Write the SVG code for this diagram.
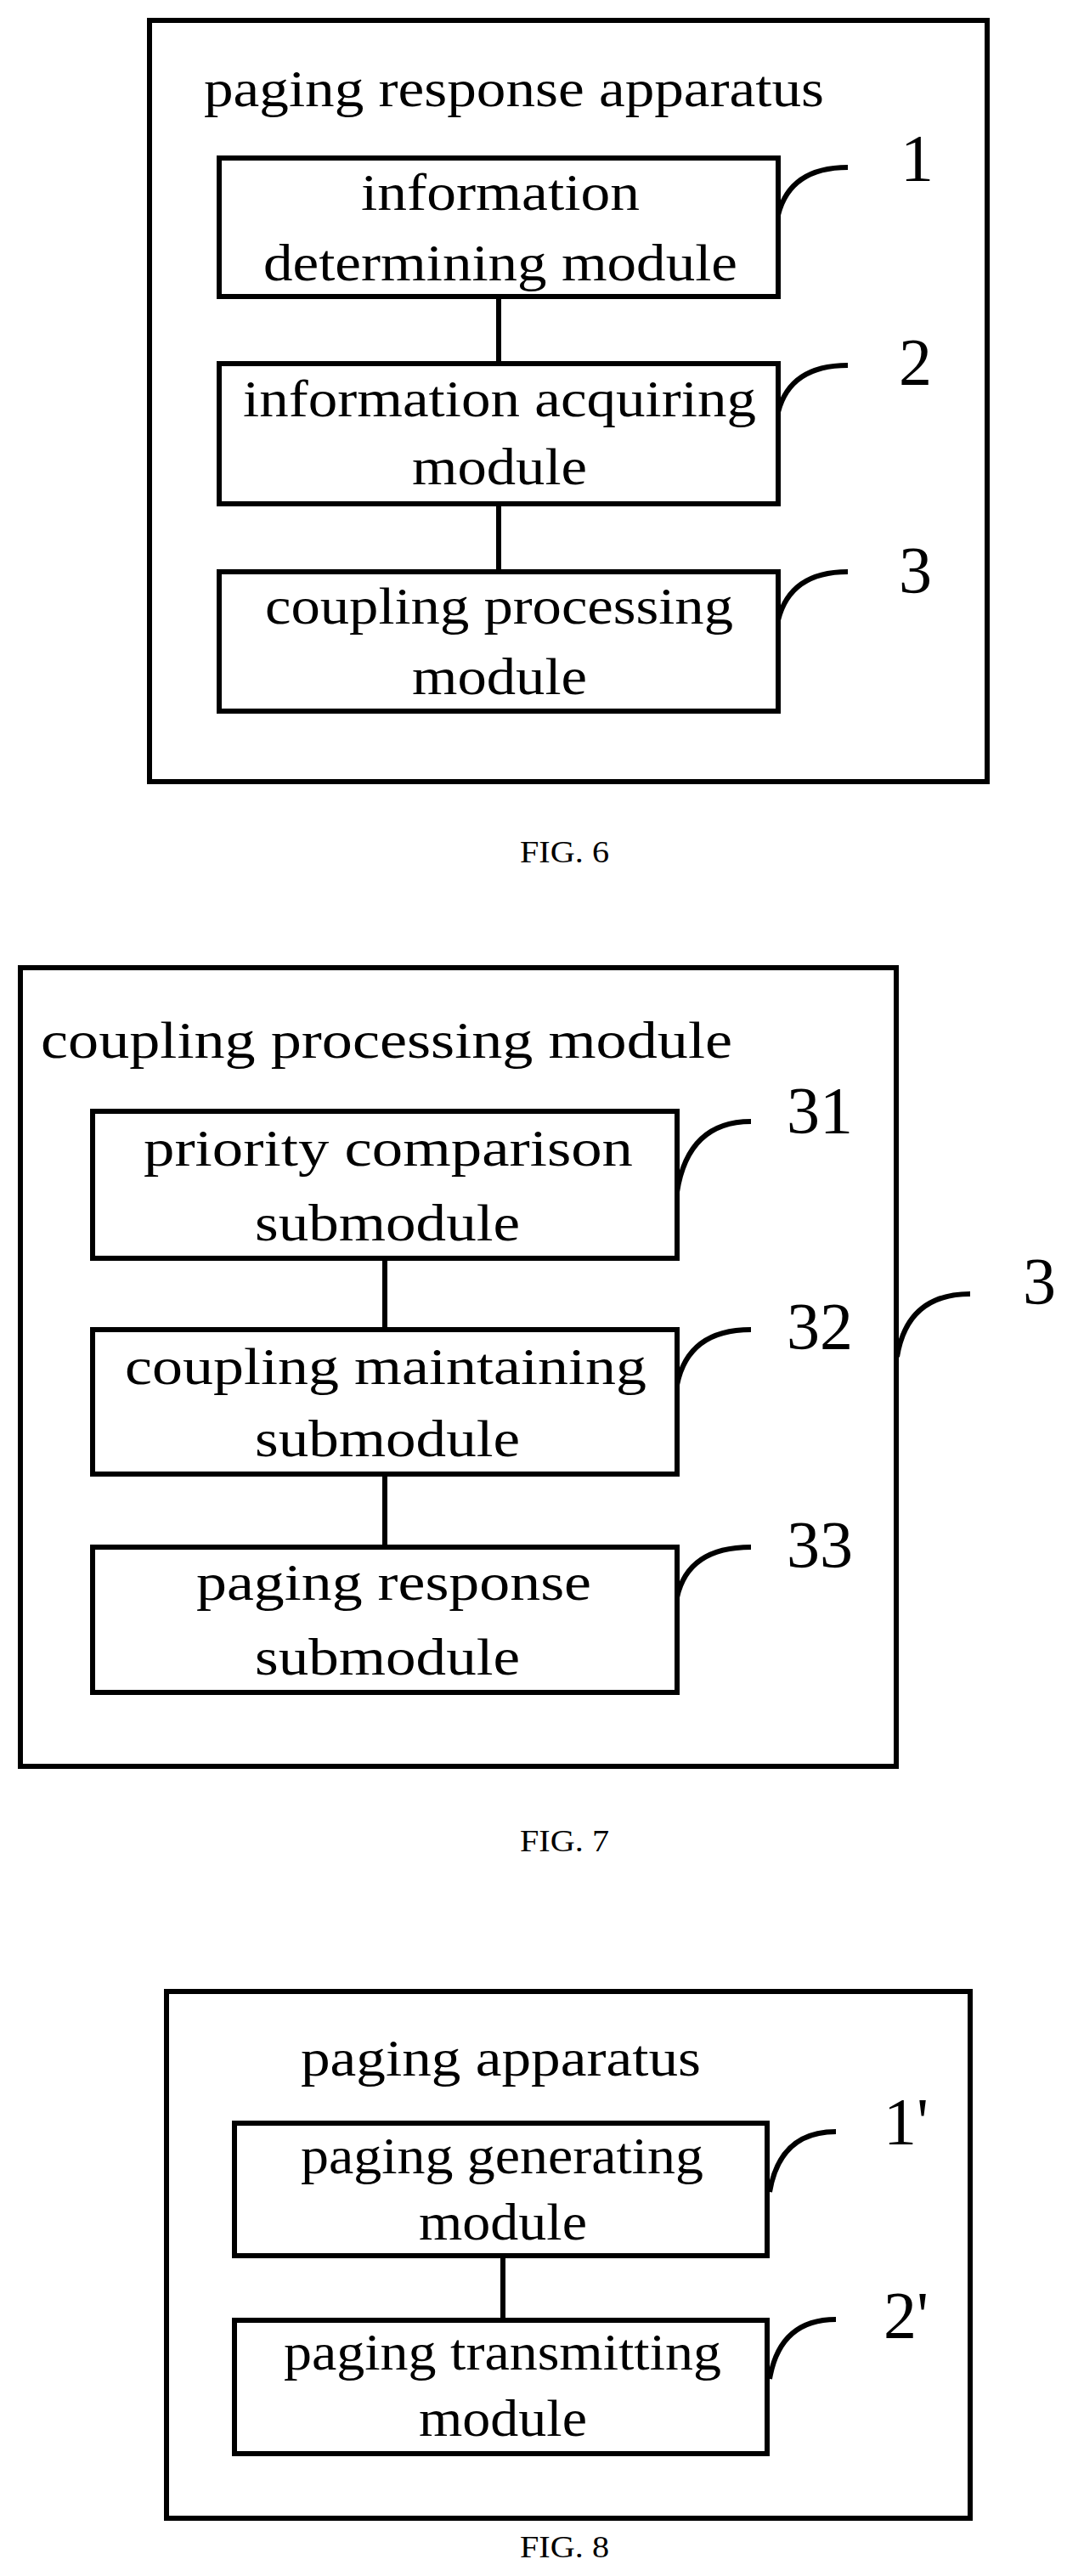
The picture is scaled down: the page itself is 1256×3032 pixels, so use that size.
<svg xmlns="http://www.w3.org/2000/svg" width="1256" height="3032" viewBox="0 0 1256 3032">
<style>
.b{fill:none;stroke:#000;stroke-width:6}
line,path{fill:none;stroke:#000;stroke-width:6}
text{font-family:"Liberation Serif","Times New Roman",serif;fill:#000}
.t{font-size:62px}
.n{font-size:78px}
.f{font-size:36px}
</style>
<rect width="1256" height="3032" style="fill:#fff;stroke:none"/>
<g id="fig6">
<rect class="b" x="176" y="24" width="986" height="896"/>
<text class="t" x="240" y="125" textLength="730" lengthAdjust="spacingAndGlyphs">paging response apparatus</text>
<g id="n1"><rect class="b" x="258" y="186" width="658" height="163"/>
<text class="t" x="425" y="247" textLength="328" lengthAdjust="spacingAndGlyphs">information</text>
<text class="t" x="310" y="330" textLength="558" lengthAdjust="spacingAndGlyphs">determining module</text></g>
<g id="n2"><rect class="b" x="258" y="428" width="658" height="165"/>
<text class="t" x="286" y="490" textLength="604" lengthAdjust="spacingAndGlyphs">information acquiring</text>
<text class="t" x="485" y="570" textLength="206" lengthAdjust="spacingAndGlyphs">module</text></g>
<g id="n3"><rect class="b" x="258" y="673" width="658" height="164"/>
<text class="t" x="312" y="734" textLength="551" lengthAdjust="spacingAndGlyphs">coupling processing</text>
<text class="t" x="485" y="817" textLength="206" lengthAdjust="spacingAndGlyphs">module</text></g>
<text class="n" x="1060" y="212">1</text>
<text class="n" x="1058" y="452">2</text>
<text class="n" x="1058" y="697">3</text>
<text class="f" x="612" y="1015" textLength="105" lengthAdjust="spacingAndGlyphs">FIG. 6</text>
</g>
<g id="fig7">
<rect class="b" x="24" y="1139" width="1031" height="940"/>
<text class="t" x="48" y="1245" textLength="814" lengthAdjust="spacingAndGlyphs">coupling processing module</text>
<g id="n31"><rect class="b" x="109" y="1308" width="688" height="173"/>
<text class="t" x="169" y="1372" textLength="576" lengthAdjust="spacingAndGlyphs">priority comparison</text>
<text class="t" x="300" y="1460" textLength="312" lengthAdjust="spacingAndGlyphs">submodule</text></g>
<g id="n32"><rect class="b" x="109" y="1565" width="688" height="170"/>
<text class="t" x="147" y="1629" textLength="614" lengthAdjust="spacingAndGlyphs">coupling maintaining</text>
<text class="t" x="300" y="1714" textLength="312" lengthAdjust="spacingAndGlyphs">submodule</text></g>
<g id="n33"><rect class="b" x="109" y="1821" width="688" height="171"/>
<text class="t" x="231" y="1883" textLength="465" lengthAdjust="spacingAndGlyphs">paging response</text>
<text class="t" x="300" y="1971" textLength="312" lengthAdjust="spacingAndGlyphs">submodule</text></g>
<text class="n" x="926" y="1333">31</text>
<text class="n" x="926" y="1587">32</text>
<text class="n" x="926" y="1844">33</text>
<text class="n" x="1204" y="1534">3</text>
<text class="f" x="612" y="2179" textLength="105" lengthAdjust="spacingAndGlyphs">FIG. 7</text>
</g>
<g id="fig8">
<rect class="b" x="196" y="2344" width="946" height="620"/>
<text class="t" x="354" y="2443" textLength="471" lengthAdjust="spacingAndGlyphs">paging apparatus</text>
<g id="n1p"><rect class="b" x="276" y="2499" width="627" height="156"/>
<text class="t" x="354" y="2558" textLength="474" lengthAdjust="spacingAndGlyphs">paging generating</text>
<text class="t" x="493" y="2636" textLength="198" lengthAdjust="spacingAndGlyphs">module</text></g>
<g id="n2p"><rect class="b" x="276" y="2731" width="627" height="157"/>
<text class="t" x="334" y="2789" textLength="515" lengthAdjust="spacingAndGlyphs">paging transmitting</text>
<text class="t" x="493" y="2867" textLength="198" lengthAdjust="spacingAndGlyphs">module</text></g>
<text class="n" x="1040" y="2523">1'</text>
<text class="n" x="1040" y="2751">2'</text>
<text class="f" x="612" y="3010" textLength="105" lengthAdjust="spacingAndGlyphs">FIG. 8</text>
</g>
<g id="connectors">
<line x1="587" y1="349" x2="587" y2="428"/>
<line x1="587" y1="593" x2="587" y2="673"/>
<line x1="453" y1="1481" x2="453" y2="1565"/>
<line x1="453" y1="1735" x2="453" y2="1821"/>
<line x1="592" y1="2655" x2="592" y2="2731"/>
<path d="M916 253 Q930 197 998 197"/>
<path d="M916 485 Q930 430 998 430"/>
<path d="M916 730 Q930 673 998 673"/>
<path d="M797 1403 Q810 1320 884 1320"/>
<path d="M797 1630 Q810 1565 884 1565"/>
<path d="M797 1880 Q810 1821 884 1821"/>
<path d="M1056 1597 Q1068 1523 1142 1523"/>
<path d="M906 2580 Q918 2509 984 2509"/>
<path d="M906 2800 Q918 2730 984 2730"/>
</g>
</svg>
